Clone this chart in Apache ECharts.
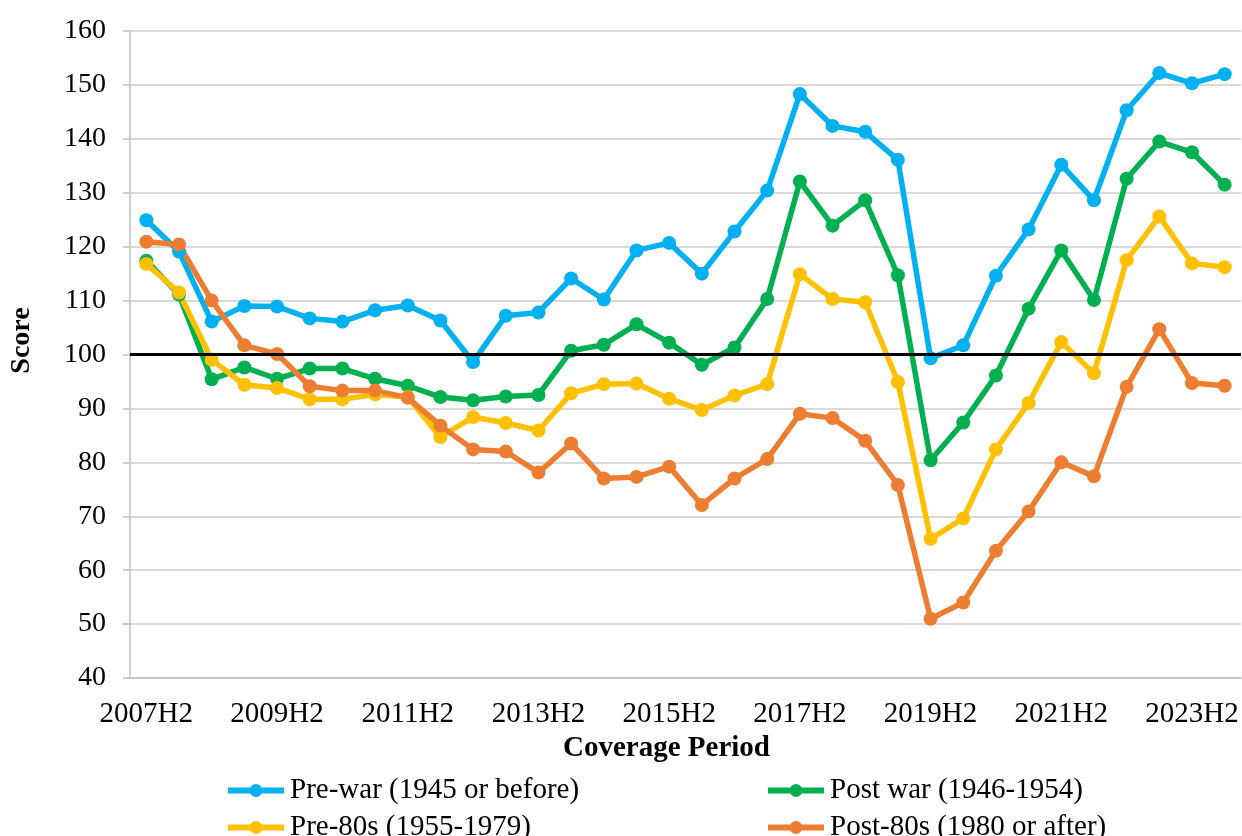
<!DOCTYPE html>
<html>
<head>
<meta charset="utf-8">
<script src="https://cdn.jsdelivr.net/npm/echarts@6/dist/echarts.min.js"></script>
<style>
  html, body { margin: 0; padding: 0; background: #fff; }
  #main { width: 1242px; height: 836px; }
</style>
</head>
<body>
<div id="main"></div>
<script>
// coverage periods, half-yearly
var periods = [
  '2007H2', '2008H1', '2008H2', '2009H1', '2009H2', '2010H1', '2010H2', '2011H1', '2011H2',
  '2012H1', '2012H2', '2013H1', '2013H2', '2014H1', '2014H2', '2015H1', '2015H2', '2016H1',
  '2016H2', '2017H1', '2017H2', '2018H1', '2018H2', '2019H1', '2019H2', '2020H1', '2020H2',
  '2021H1', '2021H2', '2022H1', '2022H2', '2023H1', '2023H2', '2024H1'
];

var seriesNames = ['Pre-war (1945 or before)', 'Post war (1946-1954)', 'Pre-80s (1955-1979)', 'Post-80s (1980 or after)'];

var preWar = [124.9, 119.1, 106.1, 109.0, 108.9, 106.7, 106.1, 108.2, 109.1, 106.3, 98.6, 107.2,
  107.8, 114.1, 110.2, 119.3, 120.7, 115.0, 122.8, 130.4, 148.3, 142.4, 141.3, 136.1, 99.3,
  101.7, 114.6, 123.2, 135.2, 128.6, 145.3, 152.2, 150.3, 152.0];
var postWar = [117.4, 111.1, 95.4, 97.6, 95.5, 97.4, 97.4, 95.5, 94.2, 92.1, 91.5, 92.2,
  92.5, 100.7, 101.8, 105.6, 102.2, 98.1, 101.3, 110.3, 132.1, 123.9, 128.6, 114.7, 80.4,
  87.4, 96.1, 108.5, 119.3, 110.1, 132.6, 139.5, 137.5, 131.5];
var pre80s = [116.8, 111.5, 99.0, 94.4, 93.8, 91.7, 91.7, 92.6, 92.1, 84.7, 88.4, 87.3,
  85.9, 92.8, 94.5, 94.6, 91.8, 89.7, 92.4, 94.5, 114.9, 110.3, 109.7, 94.9, 65.8,
  69.6, 82.4, 91.0, 102.3, 96.5, 117.5, 125.6, 116.9, 116.2];
var post80s = [120.9, 120.4, 110.0, 101.7, 100.1, 94.1, 93.3, 93.3, 92.0, 86.8, 82.4, 82.0,
  78.1, 83.5, 77.0, 77.3, 79.2, 72.1, 77.0, 80.6, 89.0, 88.2, 84.0, 75.8, 51.0,
  54.0, 63.6, 70.9, 80.0, 77.4, 94.0, 104.7, 94.7, 94.2];

var colors = ['#00B0F0', '#00B050', '#FFC000', '#ED7D31'];
var baseline = 100;

var chart = echarts.init(document.getElementById('main'));
var fontFamily = '"Liberation Serif", "Times New Roman", serif';

function makeSeries(name, data, color) {
  return {
    name: name,
    type: 'line',
    data: data,
    z: 3,
    symbol: 'circle',
    symbolSize: 14,
    lineStyle: { color: color, width: 5.5 },
    itemStyle: { color: color },
    emphasis: { disabled: true }
  };
}

function makeLegend(name, left, top) {
  return {
    data: [name],
    left: left,
    top: top,
    itemWidth: 56,
    itemHeight: 16,
    itemGap: 0,
    lineStyle: { width: 6 },
    textStyle: { fontFamily: fontFamily, fontSize: 29, color: '#000', padding: [0, 0, 0, 1] }
  };
}

var option = {
  animation: false,
  backgroundColor: '#fff',
  color: colors,
  grid: { left: 130, right: 1, top: 31, bottom: 158 },
  legend: [
    makeLegend(seriesNames[0], 220, 771),
    makeLegend(seriesNames[1], 760, 771),
    makeLegend(seriesNames[2], 220, 808),
    makeLegend(seriesNames[3], 760, 808)
  ],
  xAxis: [{
    type: 'category',
    data: periods,
    boundaryGap: true,
    name: 'Coverage Period',
    nameLocation: 'middle',
    nameGap: 56,
    nameTextStyle: { fontFamily: fontFamily, fontSize: 29, fontWeight: 'bold', color: '#000', padding: [0, 38, 0, 0] },
    axisLine: { lineStyle: { color: '#BFBFBF', width: 1.5 } },
    axisTick: { interval: 1, length: 8, lineStyle: { color: '#BFBFBF', width: 1.5 } },
    axisLabel: { interval: 3, margin: 22, fontFamily: fontFamily, fontSize: 29, color: '#000' }
  }, {
    type: 'category',
    data: periods,
    boundaryGap: true,
    position: 'bottom',
    axisLine: { show: false },
    axisTick: { interval: 1, inside: true, length: 8, lineStyle: { color: '#BFBFBF', width: 1.5 } },
    axisLabel: { show: false }
  }],
  yAxis: {
    type: 'value',
    min: 40,
    max: 160,
    interval: 10,
    name: 'Score',
    nameLocation: 'middle',
    nameGap: 94,
    nameTextStyle: { fontFamily: fontFamily, fontSize: 28, fontWeight: 'bold', color: '#000', padding: [0, 0, 0, 28] },
    axisLine: { show: true, lineStyle: { color: '#BFBFBF', width: 1.5 } },
    axisTick: { show: true, length: 7, lineStyle: { color: '#BFBFBF', width: 1.5 } },
    axisLabel: { margin: 24, fontFamily: fontFamily, fontSize: 28, color: '#000' },
    splitLine: { lineStyle: { color: '#D9D9D9', width: 2 } }
  },
  series: [
    {
      type: 'line',
      data: [],
      z: 1,
      silent: true,
      markLine: {
        silent: true,
        symbol: 'none',
        label: { show: false },
        lineStyle: { color: '#000', width: 3, type: 'solid' },
        data: [{ yAxis: baseline }]
      }
    },
    makeSeries(seriesNames[0], preWar, colors[0]),
    makeSeries(seriesNames[1], postWar, colors[1]),
    makeSeries(seriesNames[2], pre80s, colors[2]),
    makeSeries(seriesNames[3], post80s, colors[3])
  ]
};

chart.setOption(option);
</script>
</body>
</html>
